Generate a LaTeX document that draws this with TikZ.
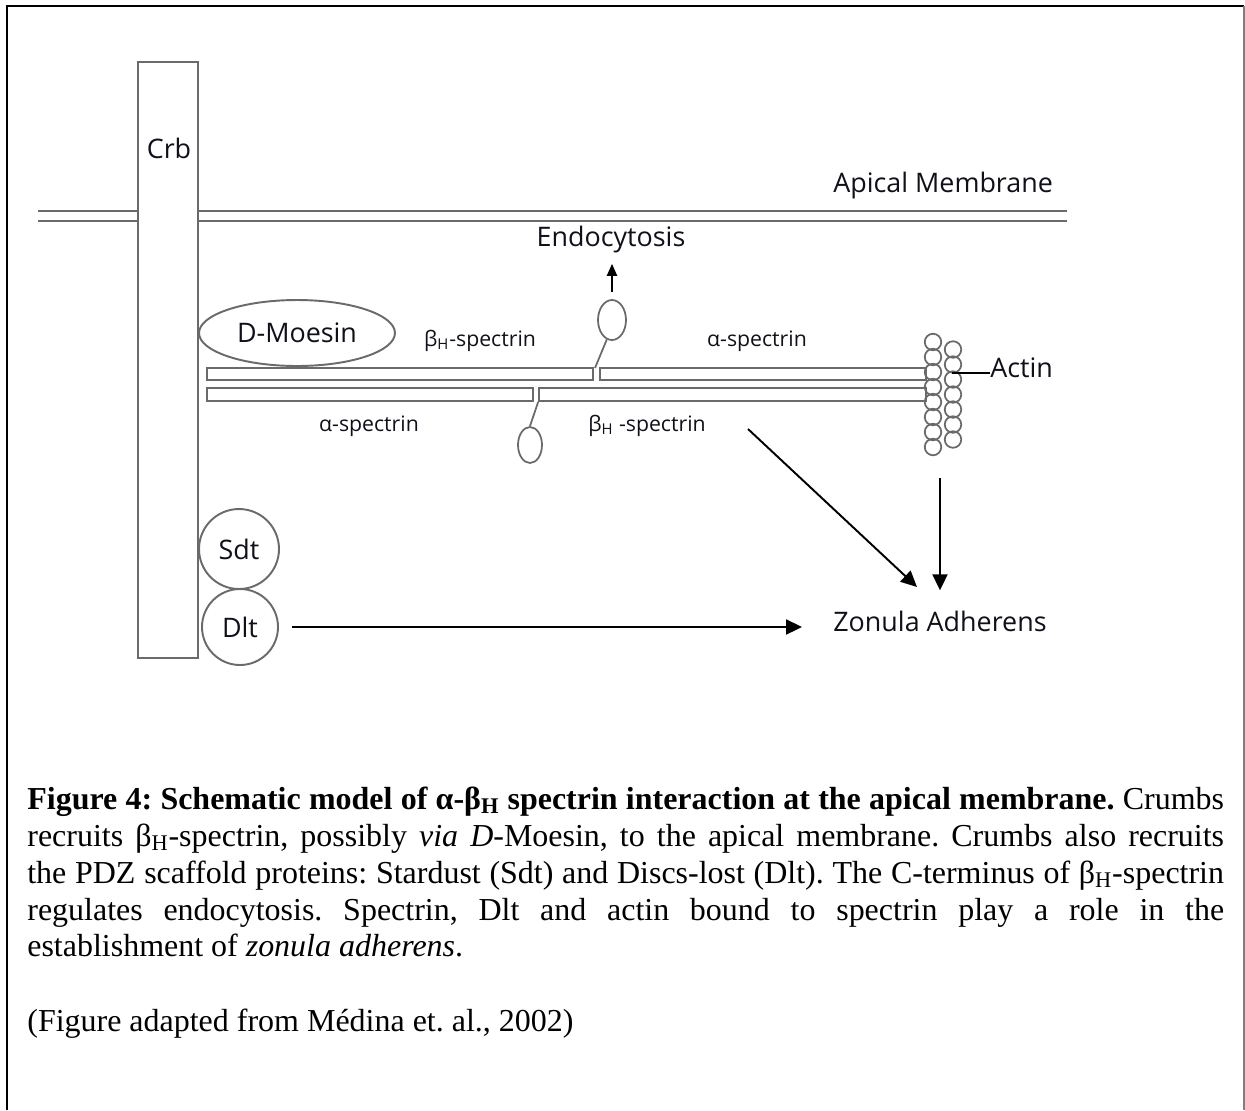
\documentclass[tikz,border=0pt]{standalone}
\usepackage{fontspec}
\setmainfont{Liberation Serif}
\newfontfamily\diagfont{Open Sans}
\usetikzlibrary{arrows.meta,shapes.geometric}
\definecolor{linegray}{HTML}{6A6A6A}
\definecolor{txt}{HTML}{10101A}
\frenchspacing
\begin{document}
\begin{tikzpicture}[x={(0.02cm,0)},y={(0,-0.02cm)},
  shapeline/.style={draw=linegray, line width=1.1pt},
  bigtxt/.style={font=\diagfont\fontsize{15.3}{18}\selectfont, text=txt, inner sep=0},
  smalltxt/.style={font=\diagfont\fontsize{12.1}{14}\selectfont, text=txt, inner sep=0},
  arr/.style={draw=black, line width=1.1pt, -{Triangle[length=0.32cm,width=0.3cm]}},
  arrsmall/.style={draw=black, line width=1.1pt, -{Triangle[length=0.24cm,width=0.2cm]}},
  barbox/.style={draw=linegray, line width=1pt, rectangle, inner sep=0},
  loopbox/.style={draw=linegray, line width=1pt, ellipse, inner sep=0},
  actinbead/.style={draw=linegray, line width=1pt, circle, minimum size=0.33cm, inner sep=0},
  capline/.style={anchor=base west, inner sep=0, font=\fontsize{18.2}{21}\selectfont}
]
\useasboundingbox (0,0) rectangle (1245,1110);
% frame
\draw[line width=1.5pt] (7,1110) -- (7,6) -- (1244,6);
\draw[draw=gray, line width=0.7pt] (1244,6) -- (1244,1110);

% apical membrane
\draw[shapeline] (38,211) -- (1067,211);
\draw[shapeline] (38,221) -- (1067,221);
\node[bigtxt, anchor=west] (apical) at (833,186) {Apical Membrane};

% Crb
\node[shapeline, fill=white, rectangle, minimum width=1.2cm, minimum height=11.92cm, inner sep=0] (crb) at (168,360) {};
\node[bigtxt] (crblbl) at (169,148) {Crb};

% D-Moesin
\node[loopbox, line width=1.1pt, minimum width=3.92cm, minimum height=1.32cm, font=\diagfont\fontsize{15.3}{18}\selectfont, text=txt] (moesin) at (297,333) {D-Moesin\hspace{0.1cm}};

% spectrin bars
\node[barbox, minimum width=7.72cm, minimum height=0.24cm] (b1) at (400,374) {};
\node[barbox, minimum width=6.52cm, minimum height=0.24cm] (b2) at (763,374) {};
\node[barbox, minimum width=6.52cm, minimum height=0.26cm] (b3) at (370,394.5) {};
\node[barbox, minimum width=7.74cm, minimum height=0.26cm] (b4) at (732.5,394.5) {};

\node[smalltxt] (bhup) at (480,341) {β\textsubscript{H}-spectrin};
\node[smalltxt] (aup) at (757,341) {α-spectrin};
\node[smalltxt] (alow) at (369,426) {α-spectrin};
\node[smalltxt] (bhlow) at (647,426) {β\textsubscript{H} -spectrin};

% loops (C-terminus)
\node[loopbox, minimum width=0.56cm, minimum height=0.8cm] (loopA) at (612,320) {};
\node[loopbox, minimum width=0.48cm, minimum height=0.72cm] (loopB) at (530,445) {};
\coordinate (stemA) at (595,368);
\draw[draw=linegray, line width=1pt] (loopA.255) -- (stemA);
\draw[draw=linegray, line width=1pt] (b4.south west) -- (loopB.north);

% endocytosis
\node[bigtxt] (endo) at (611,240) {Endocytosis};
\draw[arrsmall, shorten <=0.14cm, shorten >=0.2cm] (loopA.north) -- (loopA.north |- endo.south);

% actin
\foreach \k in {0,...,7} {
  \node[actinbead] (la\k) at (933,{342+15*\k}) {};
}
\foreach \k in {0,...,6} {
  \node[actinbead] (ra\k) at (953,{349.5+15*\k}) {};
}
\node[bigtxt, anchor=west] (actin) at (990,368) {Actin};
\coordinate (actinfoot) at (952,373);
\draw[draw=black, line width=0.8pt] (actinfoot) -- (actin.west |- actinfoot);

% Sdt, Dlt
\node[shapeline, circle, minimum size=1.6cm, inner sep=0, font=\diagfont\fontsize{15.3}{18}\selectfont, text=txt] (sdt) at (239,549) {Sdt};
\node[shapeline, circle, minimum size=1.52cm, inner sep=0, font=\diagfont\fontsize{15.3}{18}\selectfont, text=txt] (dlt) at (240,627) {Dlt};

% Zonula adherens
\node[bigtxt] (za) at (940,621) {Zonula Adherens};
\draw[arr, shorten <=0.26cm, shorten >=0.62cm] (dlt.east) -- (dlt.east -| za.west);
\coordinate (diagstart) at (748,429);
\coordinate (diagend) at (917,587);
\draw[arr] (diagstart) -- (diagend);
\coordinate (vertstart) at (940,478);
\draw[arr, shorten >=0.4cm] (vertstart) -- (za.north);

% caption
\node[capline] (cap1) at (27,809) {\makebox[23.94cm][s]{\textbf{Figure 4: Schematic model of α-β\textsubscript{H} spectrin interaction at the apical membrane.} Crumbs}};
\node[capline] (cap2) at (27,846) {\makebox[23.94cm][s]{recruits β\textsubscript{H}-spectrin, possibly \textit{via D}-Moesin, to the apical membrane. Crumbs also recruits}};
\node[capline] (cap3) at (27,883) {\makebox[23.94cm][s]{the PDZ scaffold proteins: Stardust (Sdt) and Discs-lost (Dlt). The C-terminus of β\textsubscript{H}-spectrin}};
\node[capline] (cap4) at (27,920) {\makebox[23.94cm][s]{regulates endocytosis. Spectrin, Dlt and actin bound to spectrin play a role in the}};
\node[capline] (cap5) at (27,956) {establishment of \textit{zonula adherens}.};
\node[capline] (cap6) at (27,1031) {(Figure adapted from Médina et. al., 2002)};
\end{tikzpicture}
\end{document}
